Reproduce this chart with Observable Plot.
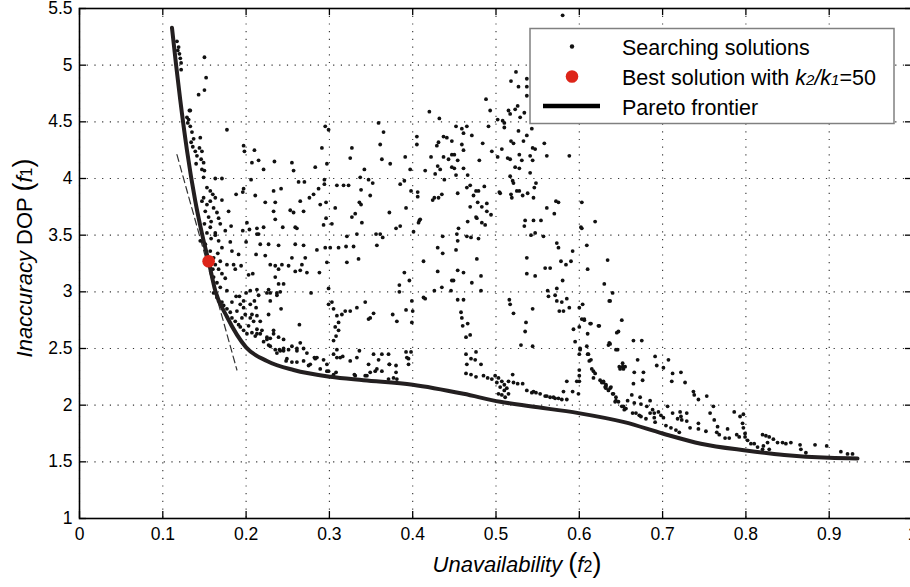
<!DOCTYPE html>
<html>
<head>
<meta charset="utf-8">
<script src="https://cdn.jsdelivr.net/npm/d3@7"></script>
<script src="https://cdn.jsdelivr.net/npm/@observablehq/plot@0.6"></script>
<style>
  html, body { margin: 0; padding: 0; background: #fff; overflow: hidden; }
  svg text { font-family: "Liberation Sans", Arial, Helvetica, sans-serif; }
</style>
</head>
<body>
<div id="chart"></div>
<script>
// ---- Data ----
const xTicks = [0, 0.1, 0.2, 0.3, 0.4, 0.5, 0.6, 0.7, 0.8, 0.9, 1];
const yTicks = [1, 1.5, 2, 2.5, 3, 3.5, 4, 4.5, 5, 5.5];

// Searching solutions [unavailability f2, inaccuracy DOP f1]
const searchPoints = [
  [0.117,5.21],[0.119,5.16],[0.120,5.10],[0.121,5.06],[0.122,5.02],[0.122,4.96],[0.118,5.13],
  [0.150,5.07],[0.152,4.89],[0.143,4.74],[0.150,4.78],[0.133,4.60],[0.129,4.54],[0.130,4.49],
  [0.132,4.60],[0.131,4.52],[0.133,4.46],[0.135,4.41],[0.137,4.35],[0.134,4.32],[0.145,4.36],[0.139,4.24],[0.144,4.27],[0.147,4.24],[0.146,4.17],[0.149,4.14],[0.147,4.08],[0.150,4.07],[0.140,4.13],[0.141,4.20],[0.136,4.28],
  [0.177,4.43],[0.197,4.29],[0.198,4.24],[0.210,4.25],[0.207,4.14],[0.215,4.16],[0.221,4.08],[0.234,4.15],[0.255,4.14],[0.257,4.07],[0.295,4.46],[0.299,4.43],[0.291,4.27],[0.297,4.13],[0.283,4.10],[0.327,4.27],[0.325,4.18],[0.359,4.49],[0.365,4.41],[0.361,4.30],[0.363,4.17],[0.373,4.13],[0.342,4.08],
  [0.149,4.01],[0.163,4.00],[0.171,4.00],[0.206,3.99],
  [0.153,3.92],[0.157,3.89],[0.160,3.86],[0.149,3.83],[0.147,3.80],[0.153,3.77],[0.157,3.80],[0.163,3.83],[0.171,3.81],[0.161,3.74],[0.165,3.70],[0.151,3.71],[0.155,3.66],[0.167,3.65],[0.169,3.60],[0.157,3.57],[0.163,3.52],[0.153,3.52],[0.179,3.71],[0.182,3.58],[0.175,3.54],[0.158,3.62],[0.150,3.60],
  [0.188,3.86],[0.197,3.91],[0.196,3.88],[0.211,3.85],[0.223,3.79],[0.233,3.89],[0.235,3.79],[0.242,3.91],[0.233,3.71],[0.235,3.64],[0.244,3.57],[0.201,3.61],[0.196,3.54],[0.204,3.55],[0.213,3.56],[0.215,3.51],[0.221,3.57],
  [0.263,3.97],[0.270,3.97],[0.253,3.72],[0.257,3.70],[0.269,3.71],[0.265,3.80],[0.276,3.83],[0.281,3.86],[0.287,3.91],[0.294,3.95],[0.294,3.99],[0.296,3.79],[0.289,3.77],[0.307,3.74],[0.296,3.65],[0.303,3.60],[0.293,3.59],[0.259,3.57],[0.261,3.56],
  [0.309,3.94],[0.317,3.94],[0.323,3.94],[0.337,4.01],[0.347,3.99],[0.352,3.96],[0.338,3.90],[0.349,3.85],[0.336,3.79],[0.338,3.77],[0.327,3.66],[0.331,3.69],[0.339,3.61],[0.333,3.51],[0.356,3.51],[0.364,3.48],[0.372,3.70],
  [0.145,3.45],[0.151,3.42],[0.163,3.50],[0.167,3.45],[0.171,3.39],[0.181,3.44],[0.183,3.36],[0.157,3.36],[0.161,3.30],[0.169,3.27],[0.167,3.20],[0.171,3.16],[0.177,3.24],[0.185,3.24],[0.191,3.33],[0.194,3.23],[0.187,3.20],[0.161,3.13],[0.165,3.08],[0.169,3.04],[0.177,3.01],[0.160,3.20],[0.163,3.24],[0.175,3.12],[0.166,3.34],[0.158,3.47],
  [0.200,3.44],[0.213,3.51],[0.212,3.33],[0.217,3.42],[0.227,3.42],[0.239,3.41],[0.223,3.32],[0.229,3.24],[0.235,3.23],[0.239,3.20],[0.243,3.24],[0.251,3.23],[0.255,3.30],[0.259,3.42],[0.269,3.41],[0.271,3.30],[0.267,3.24],[0.265,3.19],[0.259,3.18],[0.273,3.17],[0.285,3.37],[0.295,3.39],[0.297,3.26],[0.288,3.17],[0.203,3.15],[0.208,3.16],[0.239,3.07],[0.245,3.07],[0.235,3.13],
  [0.301,3.39],[0.311,3.39],[0.321,3.26],[0.320,3.40],[0.329,3.40],[0.335,3.29],[0.321,3.49],[0.357,3.41],[0.361,3.51],
  [0.299,3.03],[0.278,2.99],[0.200,2.99],[0.205,3.01],[0.213,3.02],[0.215,2.97],[0.225,2.99],[0.227,3.02],[0.237,2.99],[0.241,3.00],
  [0.161,2.99],[0.165,2.95],[0.167,2.92],[0.171,2.91],[0.173,2.88],[0.177,2.85],[0.181,2.82],[0.183,2.77],[0.187,2.74],[0.191,2.71],[0.193,2.69],[0.197,2.66],[0.201,2.63],[0.207,2.64],[0.211,2.61],[0.217,2.63],[0.219,2.66],[0.225,2.60],[0.229,2.59],[0.233,2.63],[0.195,2.77],[0.189,2.83],[0.197,2.86],[0.183,2.91],[0.188,2.96],[0.193,2.89],[0.199,2.80],[0.205,2.77],[0.209,2.74],[0.203,2.70],[0.213,2.67],[0.217,2.74],[0.192,2.96],[0.197,2.92],[0.205,2.89],[0.210,2.92],[0.212,2.86],[0.207,2.80],[0.213,2.79],
  [0.229,2.92],[0.227,2.80],[0.242,2.85],[0.229,2.99],[0.237,2.97],
  [0.233,2.66],[0.239,2.60],[0.245,2.58],[0.229,2.52],[0.235,2.49],[0.241,2.48],[0.245,2.50],[0.251,2.49],[0.255,2.52],[0.261,2.50],[0.265,2.55],[0.269,2.50],[0.273,2.46],[0.237,2.46],[0.248,2.39],[0.255,2.38],[0.261,2.38],[0.269,2.39],[0.277,2.36],[0.282,2.42],[0.285,2.42],[0.293,2.40],[0.297,2.36],[0.305,2.45],[0.309,2.42],[0.313,2.42],[0.316,2.43],[0.325,2.39],[0.333,2.42],[0.336,2.48],[0.347,2.36],[0.353,2.45],[0.359,2.40],[0.363,2.45],[0.371,2.45],[0.289,2.32],[0.297,2.30],[0.305,2.27],[0.331,2.26],[0.343,2.26],[0.349,2.29],[0.357,2.32],[0.363,2.30],[0.371,2.23],
  [0.249,2.41],[0.245,2.48],[0.240,2.49],[0.261,2.48],[0.275,2.35],[0.283,2.41],[0.227,2.53],[0.213,2.63],[0.221,2.56],[0.225,2.58],
  [0.299,2.89],[0.303,2.91],[0.305,2.85],[0.309,2.79],[0.311,2.73],[0.307,2.69],[0.311,2.66],[0.308,2.61],[0.305,2.57],[0.309,2.49],
  [0.315,2.80],[0.319,2.83],[0.325,2.83],[0.333,2.86],[0.343,2.91],[0.349,2.77],[0.353,2.81],[0.347,2.76],[0.264,2.71],
  [0.420,4.59],[0.432,4.53],[0.488,4.70],[0.493,4.60],[0.524,4.94],[0.518,4.86],[0.527,4.81],[0.537,4.81],[0.537,4.88],[0.515,4.60],[0.517,4.57],[0.523,4.61],[0.526,4.64],[0.529,4.54],[0.534,4.58],[0.537,4.73],[0.502,4.52],[0.508,4.51],[0.510,4.49],[0.510,4.45],[0.527,4.42],[0.533,4.33],[0.537,4.38],[0.543,4.44],
  [0.452,4.46],[0.459,4.44],[0.465,4.46],[0.461,4.40],[0.471,4.38],[0.491,4.46],
  [0.437,4.37],[0.441,4.36],[0.447,4.33],[0.431,4.32],[0.429,4.29],[0.405,4.37],[0.405,4.30],[0.459,4.30],[0.461,4.25],[0.484,4.31],[0.495,4.24],
  [0.447,4.21],[0.450,4.21],[0.443,4.17],[0.437,4.19],[0.454,4.16],[0.422,4.19],[0.430,4.11],[0.433,4.08],[0.447,4.10],[0.450,4.09],[0.461,4.09],[0.452,4.03],[0.438,3.99],[0.415,4.07],[0.427,4.04],[0.480,4.16],[0.502,4.19],[0.507,4.26],[0.514,4.18],[0.517,4.17],[0.518,4.33],[0.521,4.31],[0.528,4.21],[0.531,4.16],[0.523,4.10],[0.528,4.09],[0.541,4.20],[0.544,4.16],[0.547,4.26],[0.544,4.27],[0.558,4.31],[0.561,4.20],[0.588,4.20],[0.541,4.05],[0.517,4.02],[0.520,3.98],[0.521,3.96],[0.397,4.08],[0.391,4.19],
  [0.466,4.03],[0.469,3.94],[0.465,3.92],[0.476,3.89],[0.479,3.89],[0.486,3.93],[0.473,3.85],[0.478,3.79],[0.483,3.75],[0.489,3.78],[0.489,3.71],[0.494,3.68],[0.469,3.75],[0.454,3.87],[0.466,3.62],[0.476,3.66],[0.477,3.65],[0.483,3.61],[0.487,3.59],[0.455,3.56],[0.453,3.51],[0.454,3.45],[0.452,3.37],
  [0.435,3.86],[0.431,3.83],[0.426,3.83],[0.424,3.81],[0.406,3.88],[0.406,3.84],[0.398,3.89],[0.392,3.74],[0.385,3.95],[0.390,3.98],[0.408,3.63],[0.409,3.64],[0.407,3.61],[0.401,3.53],[0.385,3.58],[0.380,3.56],
  [0.504,3.88],[0.505,3.87],[0.518,3.86],[0.519,3.83],[0.525,3.89],[0.528,3.89],[0.532,3.85],[0.538,3.87],[0.545,3.83],[0.546,3.92],[0.548,3.96],
  [0.465,3.49],[0.470,3.48],[0.479,3.47],[0.436,3.49],[0.430,3.39],[0.436,3.34],
  [0.535,3.63],[0.534,3.58],[0.545,3.63],[0.554,3.63],[0.547,3.52],[0.542,3.50],[0.557,3.49],[0.561,3.74],[0.570,3.69],[0.572,3.80],[0.575,3.79],[0.573,3.43],[0.575,3.39],[0.578,3.27],[0.584,3.24],[0.590,3.27],[0.592,3.36],[0.603,3.79],[0.602,3.57],[0.603,3.56],[0.619,3.62],[0.609,3.41],[0.610,3.20],[0.634,3.28],[0.630,3.07],
  [0.413,3.27],[0.430,3.18],[0.454,3.19],[0.461,3.17],[0.477,3.29],[0.447,3.10],[0.449,3.10],[0.471,3.08],[0.482,3.14],[0.482,3.01],[0.426,3.01],[0.435,3.04],[0.446,3.01],[0.396,3.10],[0.390,3.17],[0.384,3.06],[0.384,3.00],
  [0.537,3.30],[0.537,3.16],[0.547,3.14],[0.559,3.21],[0.565,3.21],[0.580,3.10],[0.573,3.03],[0.562,3.01],[0.563,2.96],[0.571,2.97],[0.579,2.91],[0.576,2.83],[0.581,2.83],[0.585,2.94],[0.588,2.86],[0.573,2.92],
  [0.516,2.93],[0.517,2.89],[0.521,2.81],[0.544,2.85],[0.536,2.73],[0.535,2.65],[0.530,2.53],[0.544,2.52],
  [0.413,2.95],[0.415,2.94],[0.399,2.92],[0.400,2.83],[0.392,2.84],[0.376,2.80],[0.381,2.74],[0.399,2.73],
  [0.454,2.93],[0.461,2.93],[0.458,2.82],[0.459,2.77],[0.460,2.70],[0.466,2.72],[0.464,2.60],[0.469,2.62],
  [0.600,2.86],[0.604,2.89],[0.603,2.76],[0.606,2.75],[0.600,2.69],[0.593,2.67],[0.595,2.56],[0.601,2.49],[0.609,2.52],[0.610,2.63],[0.614,2.72],[0.624,2.70],[0.635,2.53],[0.636,2.92],
  [0.372,2.36],[0.380,2.35],[0.380,2.29],[0.377,2.24],[0.392,2.47],[0.398,2.47],[0.393,2.42],[0.395,2.41],[0.395,2.36],
  [0.464,2.45],[0.476,2.47],[0.470,2.41],[0.475,2.40],[0.465,2.36],[0.482,2.36],[0.464,2.28],[0.470,2.27],[0.476,2.25],[0.485,2.26],[0.490,2.24],[0.495,2.23],[0.499,2.26],[0.503,2.24],[0.501,2.20],[0.507,2.21],[0.510,2.18],[0.515,2.21],[0.520,2.27],[0.521,2.20],[0.526,2.19],[0.532,2.19],[0.505,2.16],[0.510,2.13],[0.507,2.09],[0.503,2.10],[0.513,2.15],[0.515,2.10],[0.511,2.07],
  [0.537,2.13],[0.543,2.11],[0.548,2.11],[0.559,2.08],[0.565,2.07],[0.571,2.06],[0.581,2.12],[0.585,2.21],[0.585,2.05],[0.592,2.12],[0.599,2.10],[0.600,2.21],
  [0.545,2.12],[0.553,2.10],[0.561,2.08],[0.569,2.07],[0.575,2.06],[0.579,2.05],
  [0.601,2.50],[0.600,2.45],[0.610,2.45],[0.612,2.39],[0.617,2.30],[0.617,2.24],[0.625,2.22],[0.629,2.20],[0.635,2.13],[0.632,2.17],[0.600,2.31],[0.600,2.26],[0.597,2.21],
  [0.606,2.76],[0.613,2.72],[0.623,2.70],[0.645,2.64],[0.636,2.55],[0.644,2.49],[0.648,2.34],[0.652,2.34],[0.611,2.45],[0.614,2.40],[0.615,2.32],[0.619,2.28],[0.627,2.20],[0.631,2.16],[0.637,2.15],[0.641,2.10],[0.644,2.04],[0.647,2.03],[0.653,1.99],[0.656,1.97],
  [0.345,2.26],[0.355,2.30],[0.372,2.36],[0.381,2.23],[0.299,2.30],[0.308,2.29],[0.330,2.27],
  [0.640,2.99],[0.637,2.92],[0.651,2.75],[0.647,2.65],[0.637,2.54],[0.646,2.49],[0.652,2.37],[0.649,2.32],[0.653,2.32],[0.655,2.34],
  [0.665,2.57],[0.675,2.57],[0.670,2.40],[0.666,2.29],[0.677,2.29],[0.676,2.22],[0.665,2.19],[0.691,2.43],[0.693,2.35],[0.701,2.33],[0.707,2.40],[0.712,2.28],[0.711,2.21],[0.722,2.29],[0.727,2.20],[0.737,2.12],[0.738,2.09],[0.743,2.05],[0.753,2.08],
  [0.629,2.21],[0.632,2.18],[0.632,2.15],[0.638,2.16],[0.640,2.10],[0.644,2.07],[0.643,2.03],[0.651,1.99],[0.654,1.96],[0.658,2.04],[0.663,2.09],[0.673,2.07],[0.666,2.02],[0.674,2.01],[0.681,1.99],[0.685,2.04],[0.688,1.96],[0.690,1.93],[0.690,1.89],[0.691,1.85],[0.695,1.94],[0.698,1.91],[0.701,1.89],[0.704,1.82],[0.710,1.80],[0.716,1.78],[0.720,1.76],[0.706,1.99],
  [0.664,1.93],[0.668,1.93],[0.672,1.91],[0.674,1.90],[0.680,1.88],[0.685,1.93],
  [0.712,1.93],[0.721,1.94],[0.729,1.93],[0.722,1.90],[0.718,1.88],[0.723,1.87],[0.729,1.86],[0.733,1.80],[0.743,1.84],[0.743,1.79],[0.752,1.77],[0.761,1.99],[0.757,1.93],[0.762,1.87],[0.766,1.81],[0.765,1.76],[0.768,1.74],[0.778,1.79],[0.775,1.71],[0.780,1.71],
  [0.786,1.94],[0.793,1.90],[0.797,1.92],[0.796,1.84],[0.797,1.80],[0.799,1.75],[0.799,1.72],[0.802,1.69],[0.806,1.66],[0.810,1.66],[0.814,1.63],[0.820,1.74],[0.824,1.73],[0.826,1.67],[0.821,1.64],[0.820,1.61],[0.828,1.61],[0.828,1.72],[0.833,1.70],[0.838,1.67],[0.844,1.67],[0.848,1.66],[0.854,1.67],[0.865,1.65],[0.866,1.61],[0.872,1.58],[0.883,1.65],[0.897,1.64],[0.914,1.59],[0.922,1.57],[0.928,1.57],[0.789,1.74],[0.792,1.72],
  [0.580,5.44]
];

// Pareto frontier
const frontierX = [0.111, 0.116, 0.121, 0.129, 0.139, 0.149, 0.155, 0.163, 0.177, 0.200, 0.225, 0.257, 0.301, 0.341, 0.400, 0.461, 0.505, 0.541, 0.599, 0.654, 0.700, 0.746, 0.800, 0.846, 0.900, 0.934];
const frontierY = [5.33, 5.00, 4.69, 4.25, 3.80, 3.45, 3.27, 3.01, 2.78, 2.51, 2.39, 2.31, 2.25, 2.22, 2.18, 2.10, 2.03, 1.99, 1.93, 1.85, 1.75, 1.66, 1.60, 1.56, 1.535, 1.53];

// Best solution with k2/k1 = 50
const bestX = [0.155];
const bestY = [3.27];

// Tangent (dashed) line at the best solution
const tangentX = [0.117, 0.189];
const tangentY = [4.21, 2.31];

// ---- Build tables ----
const points = searchPoints.map(([x, y]) => ({x, y}));
const frontier = frontierX.map((x, i) => ({x, y: frontierY[i]}));
const best = bestX.map((x, i) => ({x, y: bestY[i]}));
const tangent = tangentX.map((x, i) => ({x, y: tangentY[i]}));

const W = 910, H = 587;
const mL = 79, mR = -2, mT = 8, mB = 69;
const plotW = W - mL - mR, plotH = H - mT - mB;
const tick = 7;
const font = '"Liberation Sans", Arial, Helvetica, sans-serif';
const fmt = d => String(d);

const chart = Plot.plot({
  width: W, height: H,
  marginLeft: mL, marginRight: mR, marginTop: mT, marginBottom: mB,
  x: {domain: [0, 1]},
  y: {domain: [1, 5.5]},
  style: {fontFamily: font, fontSize: "17.5px", color: "black", background: "white"},
  marks: [
    Plot.ruleX(xTicks, {x: d => d, stroke: "#333", strokeWidth: 1.1, strokeDasharray: "1.2,6.5"}),
    Plot.ruleY(yTicks, {y: d => d, stroke: "#333", strokeWidth: 1.1, strokeDasharray: "1.2,6.5"}),
    Plot.line(tangent, {x: "x", y: "y", stroke: "#333", strokeWidth: 1.2, strokeDasharray: "7,4"}),
    Plot.dot(points, {x: "x", y: "y", r: 1.9, fill: "#111", stroke: "none"}),
    Plot.line(frontier, {x: "x", y: "y", stroke: "#231f20", strokeWidth: 4, curve: "monotone-x"}),
    Plot.dot(best, {x: "x", y: "y", r: 6.3, fill: "#dd2519", stroke: "none"}),
    Plot.tickX(xTicks, {x: d => d, insetTop: plotH - tick, stroke: "black", strokeWidth: 1.3}),
    Plot.tickX(xTicks, {x: d => d, insetBottom: plotH - tick, stroke: "black", strokeWidth: 1.3}),
    Plot.tickY(yTicks, {y: d => d, insetRight: plotW - tick, stroke: "black", strokeWidth: 1.3}),
    Plot.tickY(yTicks, {y: d => d, insetLeft: plotW - tick, stroke: "black", strokeWidth: 1.3}),
    Plot.frame({stroke: "black", strokeWidth: 1.6}),
    Plot.axisX(xTicks, {anchor: "bottom", tickSize: 0, tickPadding: 9, label: null, tickFormat: fmt, fontSize: 17.5}),
    Plot.axisY(yTicks, {anchor: "left", tickSize: 0, tickPadding: 7, label: null, tickFormat: fmt, fontSize: 17.5})
  ]
});

document.getElementById("chart").appendChild(chart);

// ---- Axis titles and legend (real text) ----
const svg = d3.select(chart);

// X axis title: Unavailability (f2)
const xt = svg.append("text")
  .attr("x", 517).attr("y", 572)
  .attr("text-anchor", "middle")
  .attr("font-family", font).attr("font-size", 22).attr("fill", "black");
xt.append("tspan").attr("font-style", "italic").text("Unavailability");
xt.append("tspan").text(" ");
xt.append("tspan").attr("font-size", 27).text("(");
xt.append("tspan").attr("font-style", "italic").text("f");
xt.append("tspan").attr("font-size", 16).text("2");
xt.append("tspan").attr("font-size", 27).text(")");

// Y axis title: Inaccuracy DOP (f1)
const yt = svg.append("text")
  .attr("transform", "translate(32,258) rotate(-90)")
  .attr("text-anchor", "middle")
  .attr("font-family", font).attr("font-size", 22).attr("fill", "black");
yt.append("tspan").attr("font-style", "italic").text("Inaccuracy");
yt.append("tspan").text(" DOP ");
yt.append("tspan").attr("font-size", 27).text("(");
yt.append("tspan").attr("font-style", "italic").text("f");
yt.append("tspan").attr("font-size", 16).text("1");
yt.append("tspan").attr("font-size", 27).text(")");

// Legend
const lg = svg.append("g").attr("text-anchor", "start");
lg.append("rect").attr("x", 530).attr("y", 28.5).attr("width", 364).attr("height", 95)
  .attr("fill", "white").attr("stroke", "#808080").attr("stroke-width", 1.5);
lg.append("circle").attr("cx", 572).attr("cy", 46.5).attr("r", 2.2).attr("fill", "#111");
lg.append("circle").attr("cx", 572).attr("cy", 76.5).attr("r", 6.3).attr("fill", "#dd2519");
lg.append("line").attr("x1", 543).attr("x2", 600).attr("y1", 106).attr("y2", 106)
  .attr("stroke", "#000").attr("stroke-width", 4.5);
const ltext = (y) => lg.append("text").attr("x", 622).attr("y", y)
  .attr("text-anchor", "start")
  .attr("font-family", font).attr("font-size", 21.5).attr("fill", "black");
ltext(55).text("Searching solutions");
const l2 = ltext(85);
l2.append("tspan").text("Best solution with ");
l2.append("tspan").attr("font-style", "italic").text("k");
l2.append("tspan").attr("font-style", "italic").attr("font-size", 15).text("2");
l2.append("tspan").attr("font-style", "italic").text("/k");
l2.append("tspan").attr("font-style", "italic").attr("font-size", 15).text("1");
l2.append("tspan").text("=50");
ltext(115).text("Pareto frontier");
</script>
</body>
</html>
